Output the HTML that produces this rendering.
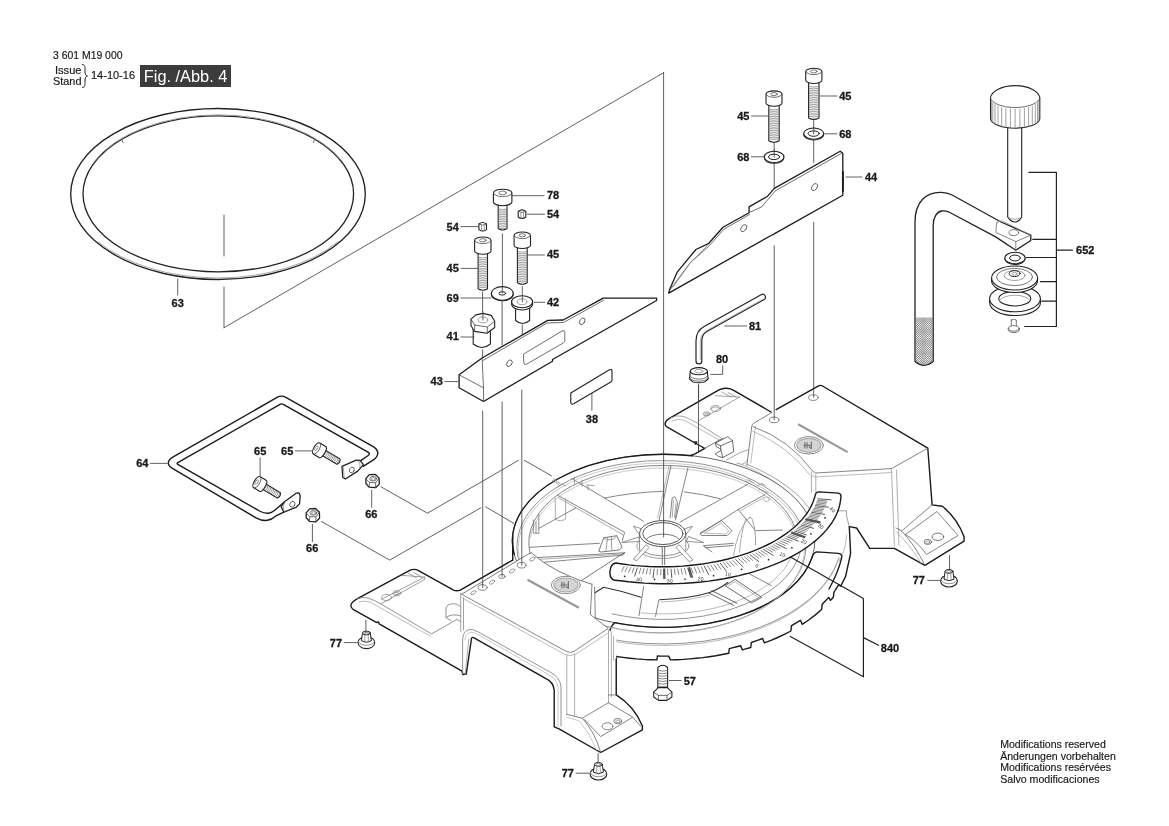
<!DOCTYPE html>
<html><head><meta charset="utf-8"><title>Fig./Abb. 4</title>
<style>
html,body{margin:0;padding:0;background:#fff;}
body{width:1169px;height:826px;overflow:hidden;font-family:"Liberation Sans",sans-serif;}
svg{display:block;position:absolute;left:0;top:0;}
svg{will-change:transform;filter:grayscale(1);}
path,ellipse,circle,rect,polygon{fill:none;stroke-linecap:round;stroke-linejoin:round;}
.b{stroke:#1a1a1a;stroke-width:1.4;}
.m{stroke:#222;stroke-width:1.1;}
.t{stroke:#4a4a4a;stroke-width:.8;}
.g{stroke:#8a8a8a;stroke-width:.8;}
.l{stroke:#3a3a3a;stroke-width:.8;}
.w{fill:#fff;}
.lb{font:bold 11px "Liberation Sans",sans-serif;fill:#1a1a1a;stroke:#1a1a1a;stroke-width:.3px;}
.tx{font:10.5px "Liberation Sans",sans-serif;fill:#1a1a1a;stroke:#1a1a1a;stroke-width:.18px;}
</style></head>
<body>
<svg width="1169" height="826" viewBox="0 0 1169 826" font-family="Liberation Sans, sans-serif">
<!-- header -->
<text class="tx" x="53" y="58.8" text-anchor="start" textLength="69.5" lengthAdjust="spacingAndGlyphs">3 601 M19 000</text>
<text class="tx" x="55" y="73.6" textLength="26.5" lengthAdjust="spacingAndGlyphs">Issue</text>
<text class="tx" x="53" y="85" textLength="28.5" lengthAdjust="spacingAndGlyphs">Stand</text>
<path class="t" d="M82.5 64.5 C85.5 64.5 85 68 85 71 C85 74 85.5 75.5 87.5 76 C85.5 76.5 85 78 85 81 C85 84 85.5 87.5 82.5 87.5" style="stroke:#222;stroke-width:1"/>
<text x="91" y="79" style="font:11.5px 'Liberation Sans',sans-serif;fill:#1a1a1a;stroke:#1a1a1a;stroke-width:.18px" textLength="44" lengthAdjust="spacingAndGlyphs">14-10-16</text>
<rect x="140" y="65" width="91" height="22" style="fill:#3c3c3c;stroke:none"/>
<text x="143.8" y="82" style="font:16px 'Liberation Sans',sans-serif;fill:#fff" textLength="83.5" lengthAdjust="spacingAndGlyphs">Fig. /Abb. 4</text>
<!-- footer -->
<text x="1000.2" y="747.8" style="font:11px 'Liberation Sans',sans-serif;fill:#1a1a1a;stroke:#1a1a1a;stroke-width:.18px" textLength="105.6" lengthAdjust="spacingAndGlyphs">Modifications reserved</text>
<text x="1000.2" y="759.5" style="font:11px 'Liberation Sans',sans-serif;fill:#1a1a1a;stroke:#1a1a1a;stroke-width:.18px" textLength="115.6" lengthAdjust="spacingAndGlyphs">Änderungen vorbehalten</text>
<text x="1000.2" y="771.3" style="font:11px 'Liberation Sans',sans-serif;fill:#1a1a1a;stroke:#1a1a1a;stroke-width:.18px" textLength="110.8" lengthAdjust="spacingAndGlyphs">Modifications resérvées</text>
<text x="1000.2" y="783" style="font:11px 'Liberation Sans',sans-serif;fill:#1a1a1a;stroke:#1a1a1a;stroke-width:.18px" textLength="99.4" lengthAdjust="spacingAndGlyphs">Salvo modificaciones</text>
<!-- ring63 -->
<ellipse class="b" cx="218" cy="194" rx="147.3" ry="85.5" style="stroke-width:1.35;stroke:#222"/>
<ellipse class="m" cx="218.3" cy="193.8" rx="135.3" ry="78" style="stroke-width:1.3;stroke:#222"/>
<path class="g" d="M94.2 161.5 A135.8 78.5 0 0 1 342.4 161.5" style="stroke:#999;stroke-width:1"/>
<path class="t" d="M122.2 139.8 L123 142.6"/>
<path class="t" d="M314.3 139.8 L313.5 142.6"/>
<path class="g" d="M337.8 241.8 A146.3 85.2 0 0 1 98.2 241.8" style="stroke:#aaa;stroke-width:1"/>
<path class="l" d="M224 215 L224 256"/>
<path class="l" d="M224 287 L224 327.7"/>
<path class="l" d="M224 327.7 L663.6 72.7"/>
<path class="l" d="M663.6 72.7 L663.6 452"/>
<path class="l" d="M177.7 279 L177.7 295"/>
<text class="lb" x="177.7" y="307" text-anchor="middle">63</text>
<!-- hardware_left -->
<path class="l" d="M502.4 234 L502.4 287.6"/>
<path class="l" d="M502.1 300 L502.1 345"/>
<path class="l" d="M522.3 286.5 L522.3 295.5"/>
<path class="l" d="M522.3 325 L522.3 335"/>
<path class="l" d="M482.6 292 L482.6 312"/>
<path class="l" d="M482.6 350 L482.6 360"/>
<path class="m w" d="M498.2 204.2 L498.2 228.5 Q502.6 231.5 507 228.5 L507 204.2 Z"/>
<path class="g" d="M499.1 209.1 Q502.6 210.2 506.2 209.1M499.1 210.8 Q502.6 211.9 506.2 210.8M499.1 212.6 Q502.6 213.7 506.2 212.6M499.1 214.3 Q502.6 215.4 506.2 214.3M499.1 216.1 Q502.6 217.2 506.2 216.1M499.1 217.8 Q502.6 218.9 506.2 217.8M499.1 219.6 Q502.6 220.7 506.2 219.6M499.1 221.3 Q502.6 222.4 506.2 221.3M499.1 223.1 Q502.6 224.2 506.2 223.1M499.1 224.8 Q502.6 225.9 506.2 224.8M499.1 226.6 Q502.6 227.7 506.2 226.6M499.1 228.3 Q502.6 229.4 506.2 228.3" style="stroke-width:.7;stroke:#777"/>
<path class="m w" d="M493.4 192.9 L493.4 202 A9.2 3.7 0 0 0 511.9 202 L511.9 192.9 A9.2 3.7 0 0 0 493.4 192.9 Z"/>
<path class="t" d="M493.4 192.9 A9.2 3.7 0 0 0 511.9 192.9"/>
<ellipse class="g" cx="502.6" cy="192.9" rx="3.7" ry="1.9" style="stroke:#555"/>
<path class="m w" d="M478.1 253 L478.1 288.8 Q482.8 291.8 487.5 288.8 L487.5 253 Z"/>
<path class="g" d="M478.9 257.5 Q482.8 258.6 486.7 257.5M478.9 259.2 Q482.8 260.3 486.7 259.2M478.9 261 Q482.8 262.1 486.7 261M478.9 262.7 Q482.8 263.8 486.7 262.7M478.9 264.5 Q482.8 265.6 486.7 264.5M478.9 266.2 Q482.8 267.3 486.7 266.2M478.9 268 Q482.8 269.1 486.7 268M478.9 269.7 Q482.8 270.8 486.7 269.7M478.9 271.5 Q482.8 272.6 486.7 271.5M478.9 273.2 Q482.8 274.3 486.7 273.2M478.9 275 Q482.8 276.1 486.7 275M478.9 276.7 Q482.8 277.8 486.7 276.7M478.9 278.5 Q482.8 279.6 486.7 278.5M478.9 280.2 Q482.8 281.3 486.7 280.2M478.9 282 Q482.8 283.1 486.7 282M478.9 283.7 Q482.8 284.8 486.7 283.7M478.9 285.5 Q482.8 286.6 486.7 285.5M478.9 287.2 Q482.8 288.3 486.7 287.2" style="stroke-width:.7;stroke:#777"/>
<path class="m w" d="M474.6 240.3 L474.6 251 A8.2 3.3 0 0 0 491 251 L491 240.3 A8.2 3.3 0 0 0 474.6 240.3 Z"/>
<path class="t" d="M474.6 240.3 A8.2 3.3 0 0 0 491 240.3"/>
<ellipse class="g" cx="482.8" cy="240.3" rx="3.3" ry="1.6" style="stroke:#555"/>
<path class="m w" d="M517.4 247.2 L517.4 282.8 Q522.3 285.8 527.2 282.8 L527.2 247.2 Z"/>
<path class="g" d="M518.2 251.7 Q522.3 252.8 526.4 251.7M518.2 253.4 Q522.3 254.5 526.4 253.4M518.2 255.2 Q522.3 256.3 526.4 255.2M518.2 256.9 Q522.3 258 526.4 256.9M518.2 258.7 Q522.3 259.8 526.4 258.7M518.2 260.4 Q522.3 261.5 526.4 260.4M518.2 262.2 Q522.3 263.3 526.4 262.2M518.2 263.9 Q522.3 265 526.4 263.9M518.2 265.7 Q522.3 266.8 526.4 265.7M518.2 267.4 Q522.3 268.5 526.4 267.4M518.2 269.2 Q522.3 270.3 526.4 269.2M518.2 270.9 Q522.3 272 526.4 270.9M518.2 272.7 Q522.3 273.8 526.4 272.7M518.2 274.4 Q522.3 275.5 526.4 274.4M518.2 276.2 Q522.3 277.3 526.4 276.2M518.2 277.9 Q522.3 279 526.4 277.9M518.2 279.7 Q522.3 280.8 526.4 279.7M518.2 281.4 Q522.3 282.5 526.4 281.4" style="stroke-width:.7;stroke:#777"/>
<path class="m w" d="M514.1 235.3 L514.1 245.2 A8.2 3.3 0 0 0 530.5 245.2 L530.5 235.3 A8.2 3.3 0 0 0 514.1 235.3 Z"/>
<path class="t" d="M514.1 235.3 A8.2 3.3 0 0 0 530.5 235.3"/>
<ellipse class="g" cx="522.3" cy="235.3" rx="3.3" ry="1.6" style="stroke:#555"/>
<path class="m w" d="M518.2 211.4 L518.2 217 Q522 219.8 525.8 217 L525.8 211.4 Q522 208.4 518.2 211.4Z"/>
<path class="t" d="M518.2 211.4 Q522 213.9 525.8 211.4"/>
<path class="g" d="M520.8 212.9 L520.8 218 M523.5 212.7 L523.5 217.7"/>
<path class="m w" d="M478.9 224 L478.9 229.6 Q482.7 232.4 486.5 229.6 L486.5 224 Q482.7 221 478.9 224Z"/>
<path class="t" d="M478.9 224 Q482.7 226.5 486.5 224"/>
<path class="g" d="M481.5 225.5 L481.5 230.6 M484.2 225.3 L484.2 230.3"/>
<path class="m w" d="M491.4 293.4 L491.4 294 A10.9 6.8 0 0 0 513.2 294 L513.2 293.4"/>
<ellipse class="m w" cx="502.3" cy="293.4" rx="10.9" ry="6.8"/>
<ellipse class="m w" cx="502.3" cy="293.4" rx="3.4" ry="1.7" style="stroke-width:1"/>
<path class="l" d="M502.3 287 L502.3 293"/>
<path class="m w" d="M515.6 305 L515.6 320.5 Q522.5 326.5 529.6 320.5 L529.6 305Z"/>
<path class="m w" d="M511.6 301.8 L511.6 304 A10.5 6 0 0 0 532.6 304 L532.6 301.8"/>
<ellipse class="m w" cx="522.1" cy="301.8" rx="10.5" ry="6"/>
<ellipse class="g" cx="522.1" cy="301.8" rx="4.8" ry="2.9"/>
<path class="l" d="M522.3 296 L522.3 302"/>
<path class="m w" d="M473.2 329 L473.2 344 Q482 351 490.4 344 L490.4 329Z"/>
<path class="m w" d="M471 319.2 L475.8 314.9 L483.1 313.4 L491.3 315.4 L494.7 321.2 L494.7 327.5 L487 333.3 L474.4 331.4 L471 325.5Z"/>
<path class="t" d="M471 319.2 L474.8 325.1 L487.4 327 L494.7 321.2"/>
<path class="t" d="M474.8 325.1 L474.6 331.4 M487.4 327 L487.2 333.2"/>
<ellipse class="g" cx="482.9" cy="319.9" rx="4.8" ry="2.9"/>
<path class="l" d="M482.9 311.5 L482.9 320"/>
<text class="lb" x="547" y="199.4" text-anchor="start">78</text>
<path class="l" d="M511.5 195.7 L544 195.7"/>
<text class="lb" x="547" y="218.4" text-anchor="start">54</text>
<path class="l" d="M527.4 214.2 L544.5 214.2"/>
<text class="lb" x="446.6" y="230.5" text-anchor="start">54</text>
<path class="l" d="M460.9 226.6 L478 226.6"/>
<text class="lb" x="446.6" y="272.3" text-anchor="start">45</text>
<path class="l" d="M460.9 268.4 L477.5 268.4"/>
<text class="lb" x="547" y="258.4" text-anchor="start">45</text>
<path class="l" d="M527.5 255 L544.5 255"/>
<text class="lb" x="446.6" y="301.7" text-anchor="start">69</text>
<path class="l" d="M460.9 298 L491 298"/>
<text class="lb" x="547" y="306.2" text-anchor="start">42</text>
<path class="l" d="M534.4 302.3 L544.7 302.3"/>
<text class="lb" x="446.6" y="340.4" text-anchor="start">41</text>
<path class="l" d="M460.9 337 L473.9 337"/>
<text class="lb" x="430.6" y="384.9" text-anchor="start">43</text>
<path class="l" d="M444.8 381.6 L457.8 381.6"/>
<!-- fence43 -->
<path class="b w" d="M459.1 374.8 L459.1 387.8 L483.5 401.5 L552.5 361.3 L552.5 359.5 L656.6 300.5 L656.6 298.1 L603.2 298.1 L563.2 320 L547.8 320.4 L482.1 358Z" style="stroke-width:1.3"/>
<path class="t" d="M459.1 374.8 L483.5 387.8 L483.5 401.5"/>
<path class="t" d="M483.5 387.8 L482.1 358"/>
<path class="t" d="M483 360.5 L547 323 L563.5 322.5 L603.5 300.3"/>
<path class="t" d="M523.8 354 L562 331 Q564.8 329.8 564.8 332.5 L564.8 340.5 Q564.8 342 563.5 342.8 L526.5 364.2 Q523.8 365.4 523.8 363 Z"/>
<ellipse class="t" cx="509.4" cy="363.3" rx="2.4" ry="3.6" transform="rotate(35 509.4 363.3)"/>
<ellipse class="t" cx="582.2" cy="321.3" rx="2.4" ry="3.6" transform="rotate(35 582.2 321.3)"/>
<path class="m" d="M570.8 393 L609 370 Q612 368.6 612 371.3 L612 380 Q612 381.4 610.8 382.1 L573.6 403.8 Q570.8 405 570.8 402.6 Z"/>
<path class="l" d="M591.9 393.5 L591.9 410.4"/>
<text class="lb" x="591.9" y="423.2" text-anchor="middle">38</text>
<!-- hardware_right -->
<path class="l" d="M813.7 119.6 L813.7 128"/>
<path class="l" d="M813.7 139.5 L813.7 162.3"/>
<path class="l" d="M774.2 142.3 L774.2 151"/>
<path class="l" d="M774.2 163.5 L774.2 187.5"/>
<path class="m w" d="M808.6 82.2 L808.6 117.9 Q813.8 120.9 819 117.9 L819 82.2 Z"/>
<path class="g" d="M809.4 86.6 Q813.8 87.7 818.2 86.6M809.4 88.4 Q813.8 89.5 818.2 88.4M809.4 90.1 Q813.8 91.2 818.2 90.1M809.4 91.9 Q813.8 93 818.2 91.9M809.4 93.6 Q813.8 94.7 818.2 93.6M809.4 95.4 Q813.8 96.5 818.2 95.4M809.4 97.1 Q813.8 98.2 818.2 97.1M809.4 98.9 Q813.8 100 818.2 98.9M809.4 100.6 Q813.8 101.7 818.2 100.6M809.4 102.4 Q813.8 103.5 818.2 102.4M809.4 104.1 Q813.8 105.2 818.2 104.1M809.4 105.9 Q813.8 107 818.2 105.9M809.4 107.6 Q813.8 108.7 818.2 107.6M809.4 109.4 Q813.8 110.5 818.2 109.4M809.4 111.1 Q813.8 112.2 818.2 111.1M809.4 112.9 Q813.8 114 818.2 112.9M809.4 114.6 Q813.8 115.7 818.2 114.6M809.4 116.4 Q813.8 117.5 818.2 116.4" style="stroke-width:.7;stroke:#777"/>
<path class="m w" d="M805.7 71.4 L805.7 80.3 A8.1 3.2 0 0 0 821.9 80.3 L821.9 71.4 A8.1 3.2 0 0 0 805.7 71.4 Z"/>
<path class="t" d="M805.7 71.4 A8.1 3.2 0 0 0 821.9 71.4"/>
<ellipse class="g" cx="813.8" cy="71.4" rx="3.2" ry="1.6" style="stroke:#555"/>
<path class="m w" d="M768.8 104.9 L768.8 140.7 Q774 143.7 779.2 140.7 L779.2 104.9 Z"/>
<path class="g" d="M769.6 109.3 Q774 110.4 778.4 109.3M769.6 111 Q774 112.1 778.4 111M769.6 112.8 Q774 113.9 778.4 112.8M769.6 114.5 Q774 115.6 778.4 114.5M769.6 116.3 Q774 117.4 778.4 116.3M769.6 118 Q774 119.1 778.4 118M769.6 119.8 Q774 120.9 778.4 119.8M769.6 121.5 Q774 122.6 778.4 121.5M769.6 123.3 Q774 124.4 778.4 123.3M769.6 125 Q774 126.1 778.4 125M769.6 126.8 Q774 127.9 778.4 126.8M769.6 128.5 Q774 129.6 778.4 128.5M769.6 130.3 Q774 131.4 778.4 130.3M769.6 132 Q774 133.1 778.4 132M769.6 133.8 Q774 134.9 778.4 133.8M769.6 135.5 Q774 136.6 778.4 135.5M769.6 137.3 Q774 138.4 778.4 137.3M769.6 139 Q774 140.1 778.4 139" style="stroke-width:.7;stroke:#777"/>
<path class="m w" d="M766 94.1 L766 103 A8 3.2 0 0 0 782 103 L782 94.1 A8 3.2 0 0 0 766 94.1 Z"/>
<path class="t" d="M766 94.1 A8 3.2 0 0 0 782 94.1"/>
<ellipse class="g" cx="774" cy="94.1" rx="3.2" ry="1.6" style="stroke:#555"/>
<ellipse class="m w" cx="813.7" cy="134.4" rx="10" ry="5.6"/>
<ellipse class="m w" cx="813.7" cy="133.6" rx="10" ry="5.6"/>
<ellipse class="m w" cx="813.7" cy="133.6" rx="5.6" ry="2.7" style="stroke-width:1"/>
<ellipse class="m w" cx="774.1" cy="157.7" rx="9.8" ry="5.6"/>
<ellipse class="m w" cx="774.1" cy="156.9" rx="9.8" ry="5.6"/>
<ellipse class="m w" cx="774.1" cy="156.9" rx="5.6" ry="2.7" style="stroke-width:1"/>
<text class="lb" x="839.2" y="100" text-anchor="start">45</text>
<path class="l" d="M820.4 96 L837 96"/>
<text class="lb" x="737.2" y="120.2" text-anchor="start">45</text>
<path class="l" d="M751.4 116 L768 116"/>
<text class="lb" x="839.2" y="138" text-anchor="start">68</text>
<path class="l" d="M824.5 133.8 L837 133.8"/>
<text class="lb" x="737.2" y="160.8" text-anchor="start">68</text>
<path class="l" d="M751.4 156.8 L763.5 156.8"/>
<text class="lb" x="864.9" y="180.8" text-anchor="start">44</text>
<path class="l" d="M846 177 L861.9 177"/>
<path class="b w" d="M840.2 151.2 L842.8 153.2 L842.8 195.2 L774.6 233.6 L773.4 234.6 L771.5 235.2 L668.7 293.1 L669.7 289.2 L677.4 271.8 L695.9 249.5 L708.4 243.7 L723 227.2 L749.1 212.7 L749.1 206.9 L767.6 196.2 L774.3 188.4Z" style="stroke-width:1.3"/>
<path class="t" d="M841.2 153.5 L775.3 190.8 L761.7 206.9 L750.1 212.1"/>
<path class="t" d="M749.5 214.5 L724 229.1 L709.4 245.6 L690 263 L669.8 290"/>
<path class="g" d="M690 263 L707.5 245.6"/>
<path class="g" d="M689 265 L673 287"/>
<path class="b" d="M842.9 172 L842.9 191" style="stroke-width:1.9"/>
<path class="l" d="M774.2 150 L774.2 157.2"/>
<path class="l" d="M813.7 127 L813.7 134"/>
<ellipse class="t" cx="814.5" cy="187.1" rx="2.5" ry="3.9" transform="rotate(35 814.5 187.1)"/>
<ellipse class="t" cx="743.7" cy="228.2" rx="2.5" ry="3.9" transform="rotate(35 743.7 228.2)"/>
<!-- assy652 -->
<path class="m w" d="M1007.7 125 L1007.7 217 L1009.5 219.5 Q1014.7 224.5 1020 219.5 L1021.7 217 L1021.7 125Z"/>
<path class="g" d="M1009.5 218 Q1014.7 221 1020 218"/>
<path class="m w" d="M990.5 97.8 L990.5 119 A24.7 9.8 0 0 0 1039.8 119 L1039.8 97.8 A24.7 13 0 0 0 990.5 97.8Z"/>
<path class="t" d="M990.5 97.8 A24.7 10.5 0 0 0 1039.8 97.8"/>
<path class="g" d="M991.4 100.8 L991.4 120.1M992.8 102.8 L992.8 122M995 104.6 L995 123.6M998 106.2 L998 125.1M1001.7 107.5 L1001.7 126.3M1005.9 108.5 L1005.9 127.3M1010.4 109.1 L1010.4 127.8M1015.1 109.3 L1015.1 128M1019.9 109.1 L1019.9 127.8M1024.4 108.5 L1024.4 127.3M1028.6 107.5 L1028.6 126.3M1032.3 106.2 L1032.3 125.1M1035.3 104.6 L1035.3 123.6M1037.5 102.8 L1037.5 122M1038.9 100.8 L1038.9 120.1" style="stroke:#777;stroke-width:.7"/>
<path class="m" d="M1028.9 172.3 L1056.4 172.3 L1056.4 326.5 L1024.7 326.5 M1032.7 239.3 L1056.4 239.3 M1026.4 257.5 L1056.4 257.5 M1040.5 281.7 L1056.4 281.7 M1041.7 301.1 L1056.4 301.1 M1056.4 250.2 L1072.4 250.2" style="stroke-width:1.2"/>
<text class="lb" x="1076.1" y="254.4" text-anchor="start">652</text>
<path class="m w" d="M915 361.6 L915 222 C915 202 926 192 941.2 192.4 Q947 192.6 952.1 195 L1001 222 L1030.8 235.2 L1030.8 240.5 L1015.8 250.2 L995.7 236.9 L948.4 211.8 Q945 210.3 941.5 211 C937 212 933.2 217 933.2 225.5 L933.2 361.6 Q924 369 915 361.6Z" style="stroke-width:1.3"/>
<path class="g" d="M996.9 222.4 L1001.7 220.7 L1030.8 235.2"/>
<path class="g" d="M996.9 222.4 Q995.5 230 996.2 232.5 L1015.8 241.6 L1030.8 235.2 M1015.8 241.6 L1015.8 250.2" style="stroke:#666"/>
<ellipse class="g" cx="1013.8" cy="232.6" rx="4.8" ry="3" style="stroke:#555"/>
<clipPath id="rodclip"><path d="M915.6 317.5 L932.6 317.5 L932.6 361.4 Q924 368 915.6 361.4Z"/></clipPath>
<path class="g" d="M915 318 L933.2 300 M915 300 L933.2 318M915 320.2 L933.2 302.2 M915 302.2 L933.2 320.2M915 322.4 L933.2 304.4 M915 304.4 L933.2 322.4M915 324.6 L933.2 306.6 M915 306.6 L933.2 324.6M915 326.8 L933.2 308.8 M915 308.8 L933.2 326.8M915 329 L933.2 311 M915 311 L933.2 329M915 331.2 L933.2 313.2 M915 313.2 L933.2 331.2M915 333.4 L933.2 315.4 M915 315.4 L933.2 333.4M915 335.6 L933.2 317.6 M915 317.6 L933.2 335.6M915 337.8 L933.2 319.8 M915 319.8 L933.2 337.8M915 340 L933.2 322 M915 322 L933.2 340M915 342.2 L933.2 324.2 M915 324.2 L933.2 342.2M915 344.4 L933.2 326.4 M915 326.4 L933.2 344.4M915 346.6 L933.2 328.6 M915 328.6 L933.2 346.6M915 348.8 L933.2 330.8 M915 330.8 L933.2 348.8M915 351 L933.2 333 M915 333 L933.2 351M915 353.2 L933.2 335.2 M915 335.2 L933.2 353.2M915 355.4 L933.2 337.4 M915 337.4 L933.2 355.4M915 357.6 L933.2 339.6 M915 339.6 L933.2 357.6M915 359.8 L933.2 341.8 M915 341.8 L933.2 359.8M915 362 L933.2 344 M915 344 L933.2 362M915 364.2 L933.2 346.2 M915 346.2 L933.2 364.2M915 366.4 L933.2 348.4 M915 348.4 L933.2 366.4M915 368.6 L933.2 350.6 M915 350.6 L933.2 368.6M915 370.8 L933.2 352.8 M915 352.8 L933.2 370.8M915 373 L933.2 355 M915 355 L933.2 373M915 375.2 L933.2 357.2 M915 357.2 L933.2 375.2M915 377.4 L933.2 359.4 M915 359.4 L933.2 377.4M915 379.6 L933.2 361.6 M915 361.6 L933.2 379.6M915 381.8 L933.2 363.8 M915 363.8 L933.2 381.8M915 384 L933.2 366 M915 366 L933.2 384" style="stroke:#666;stroke-width:.6" clip-path="url(#rodclip)"/>
<ellipse class="m w" cx="1015" cy="258.8" rx="10.2" ry="5.7"/>
<ellipse class="m w" cx="1015" cy="258" rx="10.2" ry="5.7"/>
<ellipse class="m w" cx="1015" cy="258" rx="5.4" ry="2.9" style="stroke-width:1"/>
<path class="m w" d="M989.6 298.7 L989.6 302.5 A25.4 13 0 0 0 1040.5 302.5 L1040.5 298.7"/>
<ellipse class="m w" cx="1015" cy="298.7" rx="25.4" ry="13"/>
<ellipse class="m w" cx="1014.8" cy="298.7" rx="16" ry="7.3"/>
<path class="g" d="M999.5 300.5 A16 7.3 0 0 1 1030.3 300.5"/>
<path class="m w" d="M991.5 278 L991.5 280.5 A23 12 0 0 0 1037.6 280.5 L1037.6 278"/>
<ellipse class="m w" cx="1014.6" cy="278" rx="23" ry="12"/>
<ellipse class="g" cx="1014.6" cy="277" rx="18" ry="8.6" style="stroke:#555"/>
<ellipse class="g" cx="1014.6" cy="275.5" rx="10.5" ry="5"/>
<ellipse class="m" cx="1014.6" cy="273.6" rx="5.5" ry="3" style="stroke-width:1"/>
<ellipse class="g" cx="1014.6" cy="273.8" rx="2.6" ry="1.4"/>
<path class="g w" d="M1011.3 320 L1011.3 327 L1016.3 327 L1016.3 320 Q1013.8 318.3 1011.3 320Z" style="stroke:#555"/>
<ellipse class="g w" cx="1013.8" cy="328.4" rx="5.5" ry="2.8" style="stroke:#555"/>
<path class="g" d="M1008.3 328.4 L1008.3 329.8 A5.5 2.8 0 0 0 1019.3 329.8 L1019.3 328.4" style="stroke:#555"/>
<!-- key81_plug80 -->
<path class="m" d="M698.9 361 L698.9 341 Q698.9 332.5 705.5 329 L762.5 297.2" style="stroke:#222;stroke-width:7;stroke-linecap:round"/>
<path class="m" d="M698.9 361 L698.9 341 Q698.9 332.5 705.5 329 L762.5 297.2" style="stroke:#fff;stroke-width:4.6;stroke-linecap:round"/>
<path class="g" d="M700.3 360 L700.3 341.5 Q700.5 334 706.5 330.6 L762.5 299.3" style="stroke:#999;stroke-width:.7"/>
<text class="lb" x="748.9" y="330.1" text-anchor="start">81</text>
<path class="l" d="M724.6 326 L746.5 326"/>
<path class="l" d="M698.6 385 L698.6 452.7"/>
<path class="m w" d="M690.2 371.2 L689.8 377 A9 3.8 0 0 0 690.6 380 A8.5 3.8 0 0 0 707 380 A9 3.8 0 0 0 707.8 377 L707.4 371.2Z"/>
<path class="g" d="M689.8 375.5 A9 3.6 0 0 0 707.8 375.5 M690 378.3 A9 3.6 0 0 0 707.6 378.3" style="stroke:#555"/>
<ellipse class="m w" cx="698.8" cy="371.2" rx="8.6" ry="3.6"/>
<ellipse class="g" cx="698.8" cy="371.2" rx="4" ry="1.7"/>
<text class="lb" x="715.9" y="363.1" text-anchor="start">80</text>
<path class="l" d="M710.8 374.4 L722.7 374.4 L722.7 365.7"/>
<!-- handle64 -->
<path class="m" d="M363.2 466.3 L373.8 459.6 Q378.6 456 377.6 451.8 Q376.8 449 374.1 447.1 L285.8 397.3 Q281.7 395 277.5 397.2 L173.2 456.8 Q167.2 460.4 168.5 464.3 Q169.2 466.6 172 468.2 L256 517.8 Q262 521 267.4 520.3 Q271.5 519.8 275.5 516.2 L283.8 512.1" style="stroke-width:1.4;stroke:#1a1a1a"/>
<path class="m" d="M360.4 460.8 L367.5 456 Q370.6 453.6 368.4 452.3 L283.3 404.4 Q281.7 403.4 280 404.4 L177.8 462.6 Q176.3 463.5 177.8 464.4 L259.5 511 Q264.5 513.7 268.7 513.2 Q272 512.5 275 510 L279.7 506 L285.2 501.2" style="stroke-width:1.4;stroke:#1a1a1a"/>
<path class="m w" d="M342 466.3 L356.3 460.1 L360 460.4 L363.4 464.6 L357.7 471.1 L345.4 479 L342.7 477.2Z" style="stroke-width:1.3"/>
<path class="g" d="M343.3 467.5 L344.2 477.6"/>
<path class="g" d="M358 460.6 Q361.3 463.5 359.5 468.5"/>
<ellipse class="t" cx="351.8" cy="470" rx="2.3" ry="3" transform="rotate(30 351.8 470)"/>
<path class="m w" d="M281.1 506.6 L285.2 501.2 L296.1 493.2 L299.1 493 L300.2 495.7 L299.5 503.9 L296.1 507.3 L283.8 512.1Z" style="stroke-width:1.3"/>
<path class="g" d="M285.4 501.5 Q281.5 507 284.5 511.6"/>
<ellipse class="t" cx="292.4" cy="504.3" rx="2.4" ry="3.1" transform="rotate(30 292.4 504.3)"/>
<g transform="translate(319.6 450.3) rotate(31)">
<path class="m w" d="M3 -3.1 L22 -3.1 Q24.3 0 22 3.1 L3 3.1Z"/>
<path class="g" d="M6.2 -2.6 Q7.2 0 6.2 2.6M7.9 -2.6 Q8.9 0 7.9 2.6M9.6 -2.6 Q10.6 0 9.6 2.6M11.3 -2.6 Q12.3 0 11.3 2.6M13 -2.6 Q14 0 13 2.6M14.7 -2.6 Q15.7 0 14.7 2.6M16.4 -2.6 Q17.4 0 16.4 2.6M18.1 -2.6 Q19.1 0 18.1 2.6M19.8 -2.6 Q20.8 0 19.8 2.6M21.5 -2.6 Q22.5 0 21.5 2.6" style="stroke:#777;stroke-width:.7"/>
<path class="m w" d="M-3.5 -6.4 L3.2 -6.4 A2.6 6.4 0 0 1 3.2 6.4 L-3.5 6.4 A2.8 6.4 0 0 1 -3.5 -6.4Z"/>
<path class="t" d="M-3.5 -6.4 A2.8 6.4 0 0 1 -3.5 6.4"/>
<ellipse class="g" cx="-3.9" cy="0" rx="1.2" ry="2.6"/>
</g>
<g transform="translate(260 484.1) rotate(31)">
<path class="m w" d="M3 -3.1 L22 -3.1 Q24.3 0 22 3.1 L3 3.1Z"/>
<path class="g" d="M6.2 -2.6 Q7.2 0 6.2 2.6M7.9 -2.6 Q8.9 0 7.9 2.6M9.6 -2.6 Q10.6 0 9.6 2.6M11.3 -2.6 Q12.3 0 11.3 2.6M13 -2.6 Q14 0 13 2.6M14.7 -2.6 Q15.7 0 14.7 2.6M16.4 -2.6 Q17.4 0 16.4 2.6M18.1 -2.6 Q19.1 0 18.1 2.6M19.8 -2.6 Q20.8 0 19.8 2.6M21.5 -2.6 Q22.5 0 21.5 2.6" style="stroke:#777;stroke-width:.7"/>
<path class="m w" d="M-3.5 -6.4 L3.2 -6.4 A2.6 6.4 0 0 1 3.2 6.4 L-3.5 6.4 A2.8 6.4 0 0 1 -3.5 -6.4Z"/>
<path class="t" d="M-3.5 -6.4 A2.8 6.4 0 0 1 -3.5 6.4"/>
<ellipse class="g" cx="-3.9" cy="0" rx="1.2" ry="2.6"/>
</g>
<path class="m w" d="M365.9 478.7 L369.3 474.6 L375.1 474.3 L379.1 478.1 L379.3 484.1 L375.5 487.7 L369.1 487.1 L365.9 483.5Z" style="stroke-width:1.3"/>
<path class="t" d="M365.9 478.7 L369.5 482.5 L375.7 482.7 L379.1 478.1"/>
<path class="t" d="M369.5 482.5 L369.1 487.1"/>
<path class="t" d="M375.7 482.7 L375.5 487.7"/>
<ellipse class="t" cx="373.1" cy="478.7" rx="3.4" ry="2.3"/>
<ellipse class="g" cx="373.3" cy="478.9" rx="2" ry="1.3"/>
<path class="m w" d="M306.2 512.9 L309.6 508.8 L315.4 508.5 L319.4 512.3 L319.6 518.3 L315.8 521.9 L309.4 521.3 L306.2 517.7Z" style="stroke-width:1.3"/>
<path class="t" d="M306.2 512.9 L309.8 516.7 L316 516.9 L319.4 512.3"/>
<path class="t" d="M309.8 516.7 L309.4 521.3"/>
<path class="t" d="M316 516.9 L315.8 521.9"/>
<ellipse class="t" cx="313.4" cy="512.9" rx="3.4" ry="2.3"/>
<ellipse class="g" cx="313.6" cy="513.1" rx="2" ry="1.3"/>
<text class="lb" x="136.2" y="467.3" text-anchor="start">64</text>
<path class="l" d="M150.5 463.4 L167 463.4"/>
<text class="lb" x="254.1" y="454.6" text-anchor="start">65</text>
<path class="l" d="M260.1 458 L260.1 475.9"/>
<text class="lb" x="281.1" y="454.6" text-anchor="start">65</text>
<path class="l" d="M295.4 450.9 L311.9 450.9"/>
<text class="lb" x="365.2" y="518.2" text-anchor="start">66</text>
<path class="l" d="M371.7 490.2 L371.7 507.3"/>
<text class="lb" x="306.1" y="551.8" text-anchor="start">66</text>
<path class="l" d="M312.4 524.4 L312.4 541.7"/>
<path class="l" d="M381 486.8 L427.5 513.2 L518.5 460.3 M524.3 460.3 L551.5 475.8"/>
<path class="l" d="M321.4 521.4 L389.7 560.1 L480.8 507.8 M485.6 506.8 L513.7 523.3"/>
<!-- nuts77_bolt57 -->
<ellipse class="m w" cx="598.4" cy="774" rx="8.4" ry="6"/>
<path class="g" d="M590.2 772.6 A8.4 5.2 0 0 0 606.6 772.6" style="stroke:#777"/>
<path class="m w" d="M594.5 764.4 L593.4 772.2 Q598.4 775.2 603.4 772.2 L602.3 764.4 Z" style="stroke-width:1"/>
<ellipse class="m w" cx="598.4" cy="764.4" rx="3.9" ry="1.9" style="stroke-width:1"/>
<ellipse class="g" cx="598.4" cy="764.4" rx="2.1" ry="1"/>
<path class="g" d="M596.9 766.8 L596.6 773.9 M600.2 766.8 L600.5 773.7"/>
<path class="l" d="M598.1 753.7 L598.1 762.5"/>
<path class="l" d="M576.1 773.2 L588.8 773.2"/>
<text class="lb" x="561.7" y="777.1" text-anchor="start">77</text>
<ellipse class="m w" cx="366.4" cy="642.6" rx="8.4" ry="6"/>
<path class="g" d="M358.2 641.2 A8.4 5.2 0 0 0 374.6 641.2" style="stroke:#777"/>
<path class="m w" d="M362.5 633 L361.4 640.8 Q366.4 643.8 371.4 640.8 L370.3 633 Z" style="stroke-width:1"/>
<ellipse class="m w" cx="366.4" cy="633" rx="3.9" ry="1.9" style="stroke-width:1"/>
<ellipse class="g" cx="366.4" cy="633" rx="2.1" ry="1"/>
<path class="g" d="M364.9 635.4 L364.6 642.5 M368.2 635.4 L368.5 642.3"/>
<path class="l" d="M365.9 620.3 L365.9 632.5"/>
<path class="l" d="M344.2 642.6 L357 642.6"/>
<text class="lb" x="329.8" y="646.6" text-anchor="start">77</text>
<ellipse class="m w" cx="949" cy="581" rx="8.4" ry="6"/>
<path class="g" d="M940.8 579.6 A8.4 5.2 0 0 0 957.2 579.6" style="stroke:#777"/>
<path class="m w" d="M945.1 571.4 L944 579.2 Q949 582.2 954 579.2 L952.9 571.4 Z" style="stroke-width:1"/>
<ellipse class="m w" cx="949" cy="571.4" rx="3.9" ry="1.9" style="stroke-width:1"/>
<ellipse class="g" cx="949" cy="571.4" rx="2.1" ry="1"/>
<path class="g" d="M947.5 573.8 L947.2 580.9 M950.8 573.8 L951.1 580.7"/>
<path class="l" d="M949.5 555.7 L949.5 569.5"/>
<path class="l" d="M927.8 580.4 L939.6 580.4"/>
<text class="lb" x="912.7" y="584.3" text-anchor="start">77</text>
<path class="m w" d="M657.8 690 L657.8 667.5 Q662.7 663 667.6 667.5 L667.6 690Z"/>
<path class="g" d="M658.3 670.5 Q662.7 671.9 667.1 670.5M658.3 673.1 Q662.7 674.5 667.1 673.1M658.3 675.7 Q662.7 677.1 667.1 675.7M658.3 678.3 Q662.7 679.7 667.1 678.3M658.3 680.9 Q662.7 682.3 667.1 680.9M658.3 683.5 Q662.7 684.9 667.1 683.5M658.3 686.1 Q662.7 687.5 667.1 686.1" style="stroke:#666"/>
<path class="m w" d="M653.7 692.2 L658.3 687.6 L667.4 687.6 L671.9 692.2 L671.9 697 L667 700.4 L658.4 700.4 L653.7 697Z"/>
<path class="t" d="M653.7 692.2 L658.4 695.4 L667 695.4 L671.9 692.2"/>
<path class="t" d="M658.4 695.4 L658.4 700.4 M667 695.4 L667 700.4"/>
<text class="lb" x="683.7" y="684.5" text-anchor="start">57</text>
<path class="l" d="M669.3 680.5 L681.2 680.5"/>
<!-- base_back_left_wing -->
<path class="b w" d="M655 453.6 L680.4 454.1 L691.3 455.1 L695 453.9 L704.7 448.4 L700.4 446 L695 443 L666.5 426.6 Q664.3 424.5 665.6 422.2 Q666.6 420.3 669 418.7 L718.5 390.2 Q722.5 388 726.5 388.2 Q730.5 388.4 733.7 390.3 L771.9 412.5 L771.9 470 L655 470Z" style="stroke:none"/>
<path class="b" d="M691.3 455.1 L695 453.9 L704.7 448.4 L700.4 446 L695 443 L666.5 426.6 Q664.3 424.5 665.6 422.2 Q666.6 420.3 669 418.7 L718.5 390.2 Q722.5 388 726.5 388.2 Q730.5 388.4 733.7 390.3 L771.9 412.5"/>
<path class="b" d="M693.6 442.2 l3.2 -0.3 l-1.6 2.4" style="stroke-width:1.2"/>
<path class="g" d="M670 418 Q676 414.6 682.9 416.3 Q689 418.5 696.2 422.4 L720.4 437.5"/>
<path class="g" d="M672 421 Q678 418 684 420 L719.5 440.2" style="stroke:#aaa"/>
<path class="g" d="M715.6 395.7 L739.8 397 M739.8 397 L699.8 420 M722 392 L731 397.2 M728 392.5 L736.3 397.3"/>
<ellipse class="g" cx="715.6" cy="408.5" rx="5" ry="3.1"/>
<path class="g" d="M710.8 409 Q715.6 404.5 720.4 409"/>
<ellipse class="g" cx="706.5" cy="413.9" rx="3.4" ry="2.1"/>
<ellipse class="g" cx="706.5" cy="414.2" rx="1.8" ry="1.1"/>
<path class="t" d="M704.7 448.4 L722.8 438.1"/>
<path class="t w" d="M715.6 443 L727.7 436.7 L732.5 440.6 L733.7 451.5 L722.8 457.5 L721 450.5 L720.4 446Z"/>
<path class="t" d="M720.4 446 L732.5 440.6 M721 450.5 L715 453.8 L718.5 456.5 L722.8 457.5 M715.6 443 L716 446.5 L720.8 449"/>
<path class="g" d="M749.5 449.5 Q744 451 739.8 452.7 L726.5 460 M749.8 456 Q747 462.5 742 464.5 L737 463"/>
<path class="l" d="M698.5 385 L698.5 452.7"/>
<!-- base_right_block -->
<path class="b w" d="M751.9 424.8 L776.1 409.7 L818.6 385.8 Q820.5 384.9 822.5 386 L927.8 448.2 L932.1 504.9 L942.3 506.3 Q957 518 964.1 536.8 L964.1 541.1 L924.9 565.3 L907.4 555.7 L894.4 548.4 L869.7 548.4 L856.6 528 L849.4 526.6 L790 520 L746.9 465.3Z" style="stroke:none"/>
<path class="b" d="M776.1 409.7 L818.6 385.8 Q820.5 384.9 822.5 386 L927.8 448.2 L932.1 504.9 L942.3 506.3 Q957 518 964.1 536.8 L964.1 541.1 L924.9 565.3 L907.4 555.7 L894.4 548.4 L869.7 548.4 L856.6 528 L849.4 526.6"/>
<path class="g" d="M771.9 412.5 L754 423 Q751.5 424.5 751.7 427 L746.9 465.3" style="stroke:#666"/>
<path class="g" d="M755.5 426 L750.8 463" style="stroke:#aaa"/>
<path class="g" d="M753 426.5 Q790 440 812.5 471 L815.7 473 L891.5 468.6 L927.8 448.2" style="stroke:#666"/>
<path class="g" d="M752.5 431 Q788 446 809.5 474.5 M811.8 475.5 L815.5 477 L891.5 472.5" style="stroke:#aaa"/>
<path class="g" d="M811.4 472 L811.4 492.5 M815.8 474.5 L815.8 491.6" style="stroke:#999"/>
<path class="g" d="M891.5 468.6 L894.4 546 M896.5 470 L899 545.5" style="stroke:#999"/>
<path class="g" d="M746.1 463.9 Q776 476 796.4 493.8 Q803 500 809 508"/>
<path class="g" d="M742 464.5 Q770 476 790 494 Q800 504 806 514" style="stroke:#aaa"/>
<ellipse class="g" cx="774.1" cy="419.9" rx="4.8" ry="2.8" style="stroke:#666"/>
<ellipse class="g" cx="813.3" cy="397.6" rx="4.8" ry="2.8" style="stroke:#666"/>
<path class="g" d="M798.2 424.2 L847.6 452.1" style="stroke:#999;stroke-width:2.2;stroke-linecap:butt"/>
<ellipse class="g w" cx="808.9" cy="445.3" rx="14.5" ry="8.7" style="stroke:#8a8a8a;stroke-width:1"/>
<ellipse class="g" cx="808.9" cy="445.3" rx="12" ry="7" style="stroke:#aaa;stroke-width:1.2;fill:#d4d4d4"/>
<path class="g" d="M804.9 442.5 l0 5.6 M807.1 442.8 l0 5.2 M803.9 445.3 l7 0 M811.4 442 l0 6.6 l-2.2 -1.6" style="stroke:#777;stroke-width:1.2"/>
<path class="l" d="M813.7 222.4 L813.7 397.4"/>
<path class="l" d="M774.2 245.6 L774.2 419.6"/>
<path class="g" d="M837 510.8 L846.6 510.8 L846.6 516 L849 526" style="stroke:#888"/>
<path class="g" d="M932.1 504.9 L901.6 531 L896 528 M901.6 531 Q915 545 924.9 565.3 M905.5 534.5 L937 511.5 L958 535.5 L926.5 554.5 Q917 541 905.5 534.5" style="stroke:#666"/>
<path class="g" d="M896 531.5 Q912 547 921 563" style="stroke:#aaa"/>
<ellipse class="g" cx="937.9" cy="536.8" rx="5.8" ry="3.7" style="stroke:#555"/>
<ellipse class="g" cx="927.8" cy="541.9" rx="3.8" ry="2.5" style="stroke:#555"/>
<ellipse class="g" cx="927.8" cy="542.2" rx="2" ry="1.2"/>
<!-- turntable_flange -->
<path class="b w" d="M616.2 656.5 L623 657.4 L629.8 658.2 L636.5 658.9 L643.3 659.4 L650.1 659.7 L656.9 659.9 L657.4 656 L661.1 656.1 L664.9 656.1 L668.6 656.1 L670.4 659.9 L676.9 659.7 L683.4 659.4 L689.9 658.9 L696.4 658.3 L702.8 657.6 L709.3 656.7 L715.8 655.7 L722.3 654.5 L728.8 653.2 L729.3 648.6 L733.1 647.6 L736.8 646.7 L740.6 645.8 L742.4 649.9 L746.6 648.7 L750.8 647.5 L751.3 642.5 L755.1 641.1 L758.8 639.9 L762.6 638.5 L764.4 642.9 L771 640.3 L777.6 637.5 L784.3 634.4 L790.9 631 L791.4 625.8 L794.4 623.8 L797.4 622.1 L800.4 620.3 L802.2 624.3 L808.7 620 L815.1 615.1 L821.6 609.5 L822.1 604.5 L824.3 602 L826.5 599.8 L828.7 597.4 L830.5 600.4 L832 598.7 L833.4 597 L833.9 592.4 L835.6 589.5 L837.2 587.2 L838.9 584.7 L840.7 586.3 L845.6 576.4 L850.5 554 L850.5 551.5 L849.3 527 L700 500 L616.2 560Z" style="stroke:none"/>
<path class="b" d="M616.2 656.5 L623 657.4 L629.8 658.2 L636.5 658.9 L643.3 659.4 L650.1 659.7 L656.9 659.9 L657.4 656 L661.1 656.1 L664.9 656.1 L668.6 656.1 L670.4 659.9 L676.9 659.7 L683.4 659.4 L689.9 658.9 L696.4 658.3 L702.8 657.6 L709.3 656.7 L715.8 655.7 L722.3 654.5 L728.8 653.2 L729.3 648.6 L733.1 647.6 L736.8 646.7 L740.6 645.8 L742.4 649.9 L746.6 648.7 L750.8 647.5 L751.3 642.5 L755.1 641.1 L758.8 639.9 L762.6 638.5 L764.4 642.9 L771 640.3 L777.6 637.5 L784.3 634.4 L790.9 631 L791.4 625.8 L794.4 623.8 L797.4 622.1 L800.4 620.3 L802.2 624.3 L808.7 620 L815.1 615.1 L821.6 609.5 L822.1 604.5 L824.3 602 L826.5 599.8 L828.7 597.4 L830.5 600.4 L832 598.7 L833.4 597 L833.9 592.4 L835.6 589.5 L837.2 587.2 L838.9 584.7 L840.7 586.3 L845.6 576.4 L850.5 554 L850.5 551.5 L849.3 527"/>
<path class="b" d="M616.2 656.5 L616.2 700"/>
<path class="g" d="M609.5 639.1 A178 104 0 0 0 839 557.7" style="stroke:#777"/>
<path class="g" d="M609.8 640.7 A177 104 0 0 0 836.2 564.6" style="stroke:#aaa"/>
<path class="g" d="M839 561.5 Q846 550 846.5 535" style="stroke:#aaa"/>
<!-- turntable_top -->
<ellipse class="g w" cx="663.6" cy="540.8" rx="151.3" ry="86.6" style="stroke:#555;stroke-width:.9"/>
<path class="b" d="M514.2 554.3 A151.3 86.6 0 0 1 692.5 455.8"/>
<path class="b" d="M614.5 622.7 A151.3 86.6 0 0 0 812.5 556.2" style="stroke-width:1.35"/>
<path class="b" d="M614.5 622.7 Q610.5 626.5 609.8 631" style="stroke-width:1.35"/>
<path class="b" d="M512.7 537 L512.7 560"/>
<path class="b" d="M812.2 557.3 Q813.5 552.5 817 551.9 L838.5 553.3 Q842.3 554 841.8 557.5 Q838 573 829 589" style="stroke-width:1.3"/>
<ellipse class="g" cx="661.4" cy="546.7" rx="144.5" ry="86.1" style="stroke:#777"/>
<ellipse class="g" cx="661.4" cy="548.2" rx="143.2" ry="85.1" style="stroke:#bbb"/>
<path class="g" d="M530 553.2 A134.5 77.1 0 1 1 796.4 553.2" style="stroke:#666"/>
<path class="g" d="M530.4 537.5 A133.3 76.1 0 0 1 796 537.5" style="stroke:#bbb"/>
<path class="g" d="M800.3 551.9 A138 78.5 0 0 1 611.9 613.8" style="stroke:#777"/>
<path class="g" d="M791.7 555.8 A131 73.5 0 0 1 640.9 612.9" style="stroke:#aaa"/>
<!-- turntable_interior -->
<path class="g" d="M604.4 498.1 Q631 492.5 662.5 491.3" style="stroke:#666"/>
<path class="g" d="M684.4 491.9 Q703 494 720 498.7" style="stroke:#666"/>
<path class="g" d="M671 465.5 L659.1 520 M687.9 468 L675.5 520" style="stroke:#666"/>
<path class="g" d="M669.2 465.5 L657.5 518 " style="stroke:#aaa"/>
<path class="g w" d="M670.1 517.9 L672.1 498.1 L674.9 496.7 L677.6 502.8 L675.5 517.9" style="stroke:#666"/>
<path class="g" d="M673.4 500 L672.3 517 M676 503 L674.4 517.5" style="stroke:#999"/>
<path class="g" d="M578.9 482.8 L643.5 521.3 M557.7 495.3 L624.6 532.3 L622.2 541" style="stroke:#666"/>
<path class="g" d="M558.5 497.8 L623 534.8" style="stroke:#999"/>
<path class="g" d="M571.5 478.5 L579.5 483 M574.5 477 L574.5 483.5 M582 480 L582 486.5 M586.5 485 L594 485.5 M588 485.5 L588 490" style="stroke:#888"/>
<path class="g" d="M552.5 480.5 L558.5 484.5 M553.5 479 L560 483.5 M556.5 487.5 L562 484 L565.5 486" style="stroke:#888"/>
<path class="g" d="M529.4 547.3 L599.4 543.3 M538 557.5 L624.6 552.8 M544.3 562.2 L623 555.1 L624.6 552.8" style="stroke:#666"/>
<path class="g" d="M540 559.3 L622 554" style="stroke:#999"/>
<path class="g w" d="M598.9 550.8 L603.7 537.8 L616.7 535.7 L622.2 547.3 L619 550 L601.5 552Z" style="stroke:#555"/>
<path class="g" d="M607.5 537.5 L606 550.5 M611.3 536.8 L611.8 550 M603.7 537.8 L607 540 L614 539 L616.7 535.7" style="stroke:#888"/>
<path class="g" d="M555.3 498.5 L555.3 519 Q560.5 522.5 565.6 519 L565.6 498.5" style="stroke:#999"/>
<path class="g" d="M533.3 520 L533.3 533 L538.8 533.5 L538.8 514.5 M536 522 L536 533.2" style="stroke:#777"/>
<path class="g" d="M538.8 528.4 L575.8 507.9" style="stroke:#666"/>
<path class="g" d="M680 522.1 L747.7 484.3 M700 534 L738.2 509.5" style="stroke:#666"/>
<path class="g" d="M738.2 509.5 L765 494.6 M738.2 509.5 L755.5 530.7 L782.3 530" style="stroke:#666"/>
<path class="g" d="M740.8 510.5 L764 497.5" style="stroke:#aaa"/>
<ellipse class="g" cx="766.5" cy="499.3" rx="2.8" ry="2.4" style="stroke:#aaa"/>
<path class="g" d="M745.5 481 L751 484.5 M748 479.5 L754 483.3 M757 486 L762 483.5 L765 485.5 M759 489 L768 493" style="stroke:#888"/>
<path class="g" d="M700.5 532.8 L721.7 520.5 L731.9 530.7 L727.2 535.5 L702 535.5Z" style="stroke:#666"/>
<path class="g" d="M704.5 533 L721.3 523.2 L728.8 530.8 L726 533.8Z" style="stroke:#aaa"/>
<path class="g" d="M703.6 545.7 L733.5 543.3 M705 547.8 L733 545.5 M703.6 545.7 L712 552" style="stroke:#666"/>
<path class="g" d="M749.2 517.4 Q752 517 752.4 519.5 Q756 531 755.5 545" style="stroke:#888"/>
<path class="g" d="M749.2 517.4 Q737 530 733.5 556 M746 518.5 Q741 532 739.5 552" style="stroke:#999"/>
<path class="g" d="M595 592.8 L603.6 587.3 Q622 591 641 597.2" style="stroke:#333;stroke-width:1.1"/>
<path class="g" d="M643.7 586.5 L639 615.6 M658.7 600.6 L655.5 616.4" style="stroke:#666"/>
<path class="g" d="M659.5 599.8 Q690 598.5 709 592.8 Q720 588.5 727.9 582.5" style="stroke:#333;stroke-width:1.1"/>
<path class="g" d="M661 602 Q690 600.8 710 595" style="stroke:#aaa"/>
<path class="g" d="M708.3 592.7 L733.5 605.3 M712 590.8 L737 603.3" style="stroke:#444"/>
<path class="g" d="M725.6 585.6 L735 579.3 L761.8 597.4 L752 602.5Z" style="stroke:#444"/>
<path class="g" d="M728.5 585.8 L735 581.7 L758.5 597.5" style="stroke:#aaa"/>
<path class="g" d="M749.2 573.8 L771.3 585.6" style="stroke:#666"/>
<ellipse class="g" cx="662.8" cy="546" rx="26" ry="12.5" style="stroke:#888"/>
<path class="g w" d="M639.5 533.6 L639.5 550 Q662.7 562 685.8 550 L685.8 533.6" style="stroke:#777"/>
<path class="g w" d="M633.8 526.4 L642 528.9 L639.5 534 Z M692.0 526.4 L684.4 528.9 L686 534Z" style="stroke:#777"/>
<path class="g w" d="M622.2 542.5 L638.6 537 L639.5 541 Z M703.6 542.5 L688.5 536.4 L686.5 541Z" style="stroke:#777"/>
<path class="g w" d="M633.8 559 L646.1 544.6 L649 547.5 L637 560.5Z M692.6 559.6 L679 544.6 L676 547.5 L689 561.5Z" style="stroke:#777"/>
<ellipse class="g w" cx="662.7" cy="533.6" rx="23.1" ry="13" style="stroke:#555;stroke-width:1"/>
<ellipse class="g" cx="662.9" cy="533.6" rx="20.2" ry="11" style="stroke:#555;stroke-width:1"/>
<path class="g" d="M646.6 539 A17 7 0 0 1 679 539" style="stroke:#555"/>
<path class="l" d="M663.6 452 L663.6 537"/>
<path class="g" d="M662.3 547 L662.3 564.5 M664.6 547 L664.6 564.5" style="stroke:#888;stroke-width:1.2"/>
<!-- scale_plate -->
<path class="b w" d="M815.3 495.1 L814.3 498.6 L813 502.1 L811.5 505.6 L809.6 509.1 L807.5 512.5 L805.1 515.8 L802.4 519.1 L799.5 522.3 L796.3 525.5 L792.8 528.5 L789.1 531.5 L785.1 534.4 L780.9 537.2 L776.5 540 L771.8 542.6 L767 545 L761.9 547.4 L756.7 549.7 L751.2 551.8 L745.6 553.8 L739.9 555.7 L733.9 557.4 L727.9 559 L721.7 560.5 L715.4 561.8 L709 562.9 L702.5 564 L696 564.8 L689.3 565.5 L682.7 566.1 L675.9 566.5 L669.2 566.7 L662.4 566.8 L655.7 566.7 L648.9 566.5 L642.2 566.1 L635.5 565.6 L628.9 564.9 L622.3 564 L615.8 563 Q610.8 563.5 609.9 571.3 Q609.5 578.7 614.5 580.3 L620.7 580.8 L628.6 581.8 L636.5 582.5 L644.5 583.1 L652.5 583.5 L660.6 583.8 L668.6 583.8 L676.7 583.6 L684.7 583.3 L692.7 582.7 L700.7 582 L708.6 581.1 L716.3 580 L724 578.7 L731.5 577.2 L739 575.6 L746.2 573.8 L753.3 571.8 L760.2 569.7 L766.9 567.4 L773.4 564.9 L779.6 562.3 L785.6 559.6 L791.4 556.7 L796.9 553.6 L802.1 550.5 L807 547.2 L811.6 543.8 L815.9 540.4 L819.9 536.8 L823.6 533.1 L826.9 529.4 L829.9 525.5 L832.6 521.6 L834.9 517.7 L836.8 513.7 L838.4 509.6 L839.6 505.5 L840.4 501.4 L840.9 497.3 Q841.5 493.7 838.3 493.1 L819.3 491.9 Q815.5 491.9 815.3 495.1Z" style="stroke-width:1.4"/>
<path class="g" d="M817.5 500.2 L827 501M817 501.6 L826.5 502.4M816.5 502.9 L826 503.9M815.9 504.3 L825.4 505.3M814.7 507 L824.1 508.2M814 508.3 L823.4 509.6M813.2 509.7 L822.6 511M812.4 511 L821.8 512.4M810.8 513.6 L820 515.2M809.8 514.9 L819.1 516.6M808.9 516.2 L818.1 518M807.9 517.5 L817.1 519.4M805.8 520 L814.9 522.1M804.7 521.3 L813.7 523.4M803.6 522.5 L812.5 524.8M802.4 523.8 L811.3 526.1M799.9 526.2 L808.7 528.7M798.6 527.4 L807.4 530M797.3 528.6 L806 531.3M795.9 529.8 L804.5 532.6M793 532.2 L801.5 535.1M791.6 533.3 L800 536.3M790 534.4 L798.4 537.5M788.5 535.6 L796.8 538.7M784.8 538.1 L792 541M782.7 539.4 L789.8 542.5M780.5 540.8 L787.5 544M778.2 542.1 L785.1 545.4M773.5 544.7 L780.2 548.2M771.1 546 L777.7 549.5M768.7 547.2 L775.1 550.8M766.2 548.4 L772.5 552.1M761 550.7 L767.1 554.6M758.4 551.8 L764.3 555.8M755.7 552.9 L761.5 557M752.9 553.9 L758.6 558.1M747.4 555.9 L752.7 560.3M744.5 556.9 L749.7 561.4M741.6 557.8 L746.7 562.4M738.7 558.7 L743.6 563.3M732.7 560.4 L737.3 565.2M729.7 561.2 L734.1 566.1M726.6 561.9 L730.8 566.9M723.5 562.7 L727.5 567.7M717.2 564 L720.9 569.2M714.1 564.6 L717.5 569.9M710.8 565.2 L714.1 570.5M707.6 565.7 L710.6 571.1M701.1 566.7 L703.7 572.2M697.8 567.1 L700.2 572.6M694.5 567.5 L696.6 573.1M691.2 567.9 L693.1 573.4M684.5 568.4 L685.9 574.1M681.1 568.7 L682.3 574.3M677.8 568.9 L678.7 574.5M674.4 569 L675.1 574.6M667.6 569.2 L667.9 574.8M664.3 569.2 L664.3 574.8M660.9 569.2 L660.7 574.8M657.5 569.2 L657 574.7M650.7 569 L649.8 574.3M647.4 568.8 L646.3 574.1M644 568.6 L642.7 573.8M640.7 568.3 L639.2 573.5M634 567.7 L632.1 572.8M630.7 567.4 L628.6 572.3M627.4 567 L625.1 571.8M624.1 566.5 L621.7 571.3" style="stroke:#555;stroke-width:.7"/>
<path class="g" d="M818 498.8 L831.2 499.8M815.3 505.6 L828.4 507.2M811.6 512.3 L824.5 514.4M806.9 518.8 L819.6 521.5M801.2 525 L813.5 528.3M794.5 531 L806.4 534.9M786.9 536.7 L798.3 541.2M775.9 543.4 L786.5 548.7M763.6 549.5 L773.3 555.5M750.2 554.9 L758.8 561.6M735.7 559.6 L743.1 566.9M720.4 563.3 L726.4 571.3M704.4 566.2 L708.7 574.7M687.8 568.2 L690.5 576.9M671 569.1 L671.8 577.9M654.1 569.1 L653.1 577.6M637.3 568 L634.7 576.1" style="stroke:#333;stroke-width:.8"/>
<path class="g" d="M664.2 568.5 L664.3 579" style="stroke:#555;stroke-width:2.2;stroke-linecap:butt"/>
<path class="g" d="M688.9 567.4 L692.1 577.8" style="stroke:#555;stroke-width:2.2;stroke-linecap:butt"/>
<path class="g" d="M791.2 532.5 L805.3 537.4" style="stroke:#555;stroke-width:2.2;stroke-linecap:butt"/>
<path class="g" d="M805.3 519.2 L820.5 522.6" style="stroke:#555;stroke-width:2.2;stroke-linecap:butt"/>
<text x="639.1" y="581.2" text-anchor="middle" style="font:5.2px 'Liberation Sans',sans-serif;fill:#333" transform="rotate(-4 639.1 579.6)">40</text>
<text x="669.8" y="582.7" text-anchor="middle" style="font:5.2px 'Liberation Sans',sans-serif;fill:#333" transform="rotate(1.4 669.8 581.1)">30</text>
<text x="700.6" y="580.7" text-anchor="middle" style="font:5.2px 'Liberation Sans',sans-serif;fill:#333" transform="rotate(6.7 700.6 579.1)">20</text>
<text x="727.8" y="576" text-anchor="middle" style="font:5.2px 'Liberation Sans',sans-serif;fill:#333" transform="rotate(11.7 727.8 574.4)">10</text>
<text x="756.9" y="567.5" text-anchor="middle" style="font:5.2px 'Liberation Sans',sans-serif;fill:#333" transform="rotate(17.5 756.9 565.9)">0</text>
<text x="782.4" y="556.5" text-anchor="middle" style="font:5.2px 'Liberation Sans',sans-serif;fill:#333" transform="rotate(23.2 782.4 554.9)">10</text>
<text x="803.8" y="543.4" text-anchor="middle" style="font:5.2px 'Liberation Sans',sans-serif;fill:#333" transform="rotate(29 803.8 541.8)">20</text>
<text x="820.7" y="528.2" text-anchor="middle" style="font:5.2px 'Liberation Sans',sans-serif;fill:#333" transform="rotate(34.9 820.7 526.6)">30</text>
<text x="832.2" y="511.3" text-anchor="middle" style="font:5.2px 'Liberation Sans',sans-serif;fill:#333" transform="rotate(41 832.2 509.7)">40</text>
<circle cx="654.5" cy="579.4" r="0.9" style="fill:#333;stroke:none"/>
<circle cx="685" cy="579.1" r="0.9" style="fill:#333;stroke:none"/>
<circle cx="713.6" cy="575.7" r="0.9" style="fill:#333;stroke:none"/>
<circle cx="741.6" cy="569.3" r="0.9" style="fill:#333;stroke:none"/>
<circle cx="768.6" cy="559.7" r="0.9" style="fill:#333;stroke:none"/>
<circle cx="791.9" cy="547.8" r="0.9" style="fill:#333;stroke:none"/>
<circle cx="810.9" cy="533.8" r="0.9" style="fill:#333;stroke:none"/>
<circle cx="825.1" cy="517.9" r="0.9" style="fill:#333;stroke:none"/>
<circle cx="624.7" cy="576.4" r="0.9" style="fill:#333;stroke:none"/>
<path class="m" d="M790.4 557 L863.4 598.4 L863.4 676.8 L790.4 636.5 M863.4 637.6 L878.6 645.2" style="stroke-width:1.2"/>
<text class="lb" x="880.8" y="652.4" text-anchor="start">840</text>
<!-- base_front_block -->
<path class="b w" d="M512.7 560.1 L460.7 589.8 Q457 591.6 453.6 590.2 L418.5 570.6 Q414.5 568.3 410.2 570.2 L357 598.8 Q350 603 351 606 Q351.3 608 353 609.3 L376.8 622.6 L378.6 623.4 L462 671.2 L462.9 674.6 L466.3 673.7 L470.5 636.4 L520 640 L530 600Z" style="stroke:none"/>
<path class="b w" d="M461.6 594.3 L527.5 554.5 L531.4 552.6 L531.3 552.8 A157 89.8 0 0 0 591.8 584.3 L590.4 614.6 L607.7 628 L616.2 640 L616.2 694.9 Q634 706 642.4 725.9 L642.4 729.8 L600.7 752.5 L559 728.8 L554.2 726.9 L554.2 690 Q553 681 545.5 678.4 L471.3 636.9 L466.3 673.7 L462.9 674.6 L462.6 636.9Z" style="stroke:none"/>
<path class="b" d="M512.7 560.1 L460.7 589.8 Q457 591.6 453.6 590.2 L418.5 570.6 Q414.5 568.3 410.2 570.2 L357 598.8 Q350 603 351 606 Q351.3 608 353 609.3 L376.8 622.6 L378.4 621.8 L379.2 623.8 L462 671.2 L462.9 674.6 L466.3 673.7"/>
<path class="b" d="M466.3 673.7 L471.3 640 Q471.3 636 474.5 638.2 L545.5 678.4 Q553.5 682 554.2 690 L554.2 726.9 L559 728.8 L600.7 752.5 L642.4 729.8 L642.4 725.9 Q634 706 616.2 694.9 L616.2 659"/>
<path class="g" d="M357 598.8 Q362 596.5 368 598 Q374 600 381 604 L431.5 633.9 L456.9 619.5" style="stroke:#777"/>
<path class="g" d="M359 602 Q364 600 370 602 L430.5 636.2" style="stroke:#aaa"/>
<path class="g" d="M401.9 575.4 L424.7 577.1 L424.7 579.5 L381.5 603.5 M381.5 599.2 L424.7 577.1 M408 573 L416.5 578 M414 572.5 L421.5 577.2" style="stroke:#888"/>
<ellipse class="g" cx="386.6" cy="597.5" rx="5" ry="3.1"/>
<ellipse class="g" cx="396.8" cy="593.2" rx="4" ry="2.6"/>
<ellipse class="g" cx="396.8" cy="593.5" rx="2" ry="1.2"/>
<path class="g" d="M446 609.3 A7.6 4.6 0 0 1 460.7 607 M446 609.3 L446 617.5 L451 620.5 M446 617.5 Q452 613 460.7 616" style="stroke:#777"/>
<path class="g" d="M456.9 619.5 L460.7 621.5"/>
<path class="g" d="M461.6 594.3 L527.5 554.5 L531.4 552.6 L531.3 552.8 A157 89.8 0 0 0 591.8 584.3" style="stroke:#555"/>
<path class="g" d="M592 583.9 L590.4 614.6 L607.7 628 M594.6 587 L595.3 618" style="stroke:#666"/>
<path class="g" d="M461.6 594.3 L566.5 651.5 Q570.5 653.6 574.5 651 L607.7 628.7" style="stroke:#666"/>
<path class="g" d="M462.5 598 L565 654.5 Q570.5 657 576 654 L608 633" style="stroke:#aaa"/>
<path class="g" d="M460.7 593.2 L460.7 631.4 M463.5 598 L463.5 630" style="stroke:#888"/>
<path class="g" d="M462.6 673.7 L462.6 640 Q462.8 631 469.4 629.5 Q473 629 478 631.8 L549.4 671.7 Q560 677 561 686.2 L561 725.9" style="stroke:#777"/>
<path class="g" d="M465 640 Q465.5 633 471 632.3 Q474 632.3 478 634.6 L548 674.3 Q557.5 679 558 688 L558 727.5" style="stroke:#bbb"/>
<path class="g" d="M468.8 639 L465.2 673.5" style="stroke:#999"/>
<path class="g" d="M566.8 655.2 L566.8 714.3 M574.6 654.2 L574.6 715.3" style="stroke:#999"/>
<path class="g" d="M608.5 630 L608.5 702.7 M611.4 632 L611.4 697 M613.6 636 L613.6 660" style="stroke:#999"/>
<path class="g" d="M608.5 695 L616.2 694.9 M608.5 702.7 L582.3 718.2 L566.8 714.3 M608.5 702.7 L632.7 717.2 L600.7 736.6 L584.5 719.6 M582.3 718.2 Q595 732 600.7 752.5 M632.7 717.2 L640.5 726" style="stroke:#666"/>
<path class="g" d="M567.5 717.5 L579.5 721 Q591 735 596.5 750" style="stroke:#bbb"/>
<ellipse class="g" cx="607.5" cy="726.3" rx="5.4" ry="3.5" style="stroke:#666"/>
<ellipse class="g" cx="617.8" cy="721.1" rx="4" ry="2.7" style="stroke:#666"/>
<ellipse class="g" cx="617.8" cy="721.4" rx="2.2" ry="1.4"/>
<ellipse class="g" cx="482.6" cy="587.5" rx="4.5" ry="2.8" style="stroke:#666"/>
<ellipse class="g" cx="501.9" cy="576.4" rx="3.3" ry="2" style="stroke:#666"/>
<ellipse class="g" cx="521.7" cy="565.2" rx="4.5" ry="2.8" style="stroke:#666"/>
<ellipse class="g" cx="473.3" cy="592.7" rx="3" ry="1.5" transform="rotate(-30 473.3 592.7)"/>
<ellipse class="g" cx="492.1" cy="582.2" rx="3" ry="1.5" transform="rotate(-30 492.1 582.2)"/>
<ellipse class="g" cx="512" cy="571" rx="3" ry="1.5" transform="rotate(-30 512 571)"/>
<ellipse class="g" cx="532.4" cy="559" rx="3" ry="1.5" transform="rotate(-30 532.4 559)"/>
<path class="g" d="M527.5 579.7 L578.9 607.8" style="stroke:#999;stroke-width:2.2;stroke-linecap:butt"/>
<ellipse class="g w" cx="565.9" cy="585" rx="14.5" ry="8.7" style="stroke:#8a8a8a;stroke-width:1"/>
<ellipse class="g" cx="565.9" cy="585" rx="12" ry="7" style="stroke:#aaa;stroke-width:1.2;fill:#d4d4d4"/>
<path class="g" d="M561.9 582.2 l0 5.6 M564.1 582.5 l0 5.2 M560.9 585 l7 0 M568.4 581.7 l0 6.6 l-2.2 -1.6" style="stroke:#777;stroke-width:1.2"/>
<path class="g" d="M581.8 580.3 L624.4 552.6" style="stroke:#555"/>
<path class="l" d="M482.7 411 L482.7 587.5"/>
<path class="l" d="M502.1 402 L502.1 576.4"/>
<path class="l" d="M521.8 390 L521.8 565.2"/>
</svg>
</body></html>
